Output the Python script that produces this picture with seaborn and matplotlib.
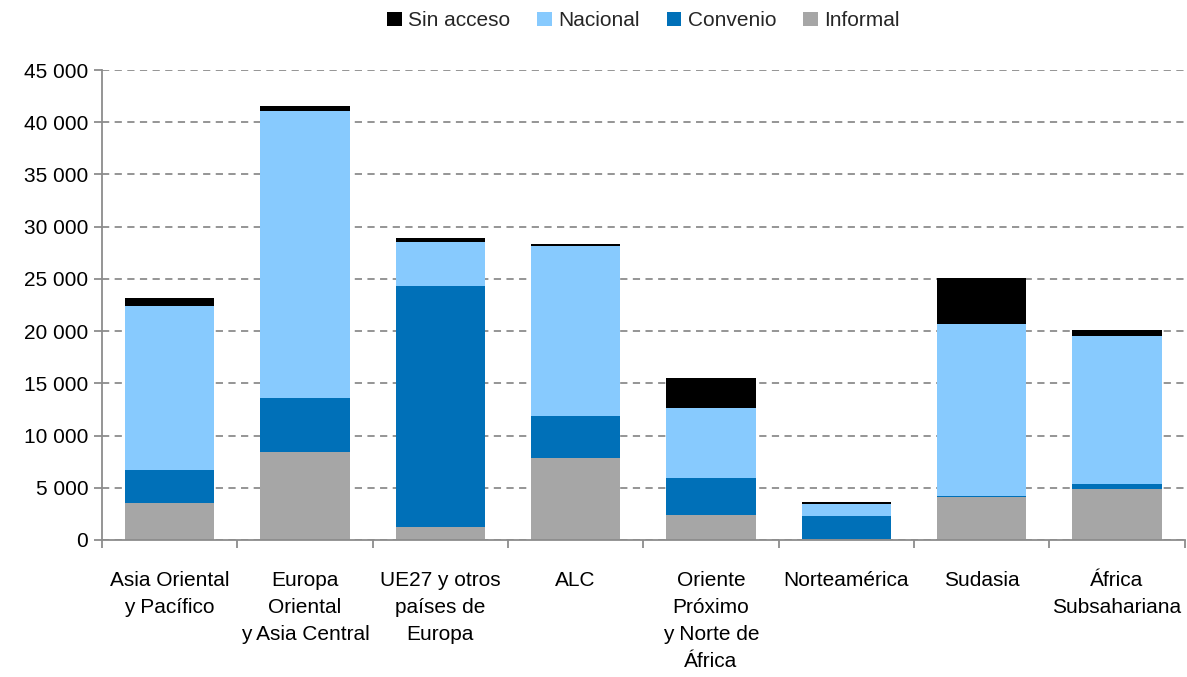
import matplotlib
matplotlib.use("Agg")
import matplotlib.pyplot as plt
import seaborn as sns
import numpy as np
import pandas as pd
from matplotlib.patches import Patch
from matplotlib.ticker import FuncFormatter, MultipleLocator, FixedLocator

categories = ["Asia Oriental\ny Pacífico", "Europa\nOriental\ny Asia Central",
              "UE27 y otros\npaíses de\nEuropa", "ALC",
              "Oriente\nPróximo\ny Norte de\nÁfrica", "Norteamérica", "Sudasia",
              "África\nSubsahariana"]
informal = [3540, 8460, 1250, 7850, 2360, 100, 4090, 4860]
convenio = [3160, 5170, 23080, 4030, 3610, 2230, 120, 500]
nacional = [15710, 27490, 4180, 16280, 6710, 1150, 16480, 14180]
sin_acceso = [770, 450, 420, 160, 2870, 190, 4380, 570]

series = [("Informal", informal, "#A6A6A6"),
          ("Convenio", convenio, "#0070B8"),
          ("Nacional", nacional, "#87CAFE"),
          ("Sin acceso", sin_acceso, "#000000")]

sns.set_theme(style="white")
plt.rcParams['font.family'] = ['Liberation Sans', 'DejaVu Sans']

fig = plt.figure(figsize=(11.87, 6.77), dpi=100)
ax = fig.add_axes([0.086, 0.2024, 0.912, 0.6942])

bottom = np.zeros(len(categories))
for name, vals, color in series:
    df = pd.DataFrame({"cat": categories, "val": vals})
    sns.barplot(data=df, x="cat", y="val", color=color, bottom=bottom, width=0.66,
                ax=ax, saturation=1, edgecolor="none", linewidth=0)
    bottom = bottom + np.array(vals)

ax.set_xlim(-0.5, len(categories) - 0.5)
ax.set_ylim(0, 45000)
ax.yaxis.set_major_locator(MultipleLocator(5000))
ax.yaxis.set_major_formatter(FuncFormatter(lambda v, p: f"{int(v):,}".replace(",", " ")))
ax.set_xlabel("")
ax.set_ylabel("")
ax.grid(axis="y", color="#8C8C8C", linestyle=(0, (4, 3)), linewidth=1.3)
ax.set_axisbelow(True)
for s in ["top", "right"]:
    ax.spines[s].set_visible(False)
for s in ["left", "bottom"]:
    ax.spines[s].set_color("#8C8C8C")
    ax.spines[s].set_linewidth(1.3)
ax.tick_params(axis="y", which="major", left=True, length=6, color="#8C8C8C", width=1.3,
               labelsize=15, pad=4, labelcolor="black")
ax.tick_params(axis="x", which="major", bottom=False, labelsize=15, pad=16, labelcolor="black")
ax.xaxis.set_minor_locator(FixedLocator(np.arange(-0.5, len(categories), 1.0)))
ax.tick_params(axis="x", which="minor", bottom=True, length=6, color="#8C8C8C", width=1.3)
for lab in ax.get_xticklabels():
    lab.set_linespacing(1.55)
    lab.set_verticalalignment("top")

handles = [Patch(facecolor=c, edgecolor="none", label=n) for n, v, c in reversed(series)]
ax.legend(handles=handles, loc="upper center", bbox_to_anchor=(0.5, 1.165), ncol=4,
          frameon=False, fontsize=15, handlelength=0.7, handleheight=0.7,
          handletextpad=0.3, columnspacing=1.3)

fig.savefig("out.png", dpi=100)
